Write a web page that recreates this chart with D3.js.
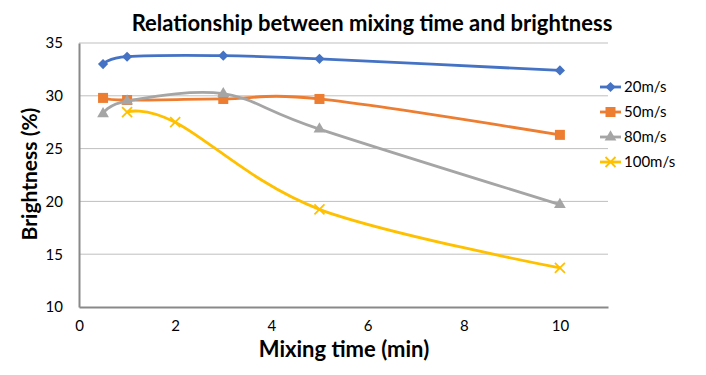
<!DOCTYPE html>
<html>
<head>
<meta charset="utf-8">
<script src="https://cdn.jsdelivr.net/npm/d3@7"></script>
<style>
  body { margin: 0; background: #fff; }
  text { font-family: Lato, "Open Sans", sans-serif; }
</style>
</head>
<body>
<svg id="canvas" width="706" height="375"></svg>
<script>
var seriesNames = ['20m/s', '50m/s', '80m/s', '100m/s'];
var seriesColors = ['#4472c4', '#ed7d31', '#a5a5a5', '#ffc000'];
var seriesMarkers = ['diamond', 'square', 'triangle', 'cross'];
var times20 = [0.5, 1, 3, 5, 10];
var values20 = [33.0, 33.7, 33.8, 33.5, 32.4];
var times50 = [0.5, 1, 3, 5, 10];
var values50 = [29.8, 29.6, 29.7, 29.7, 26.3];
var times80 = [0.5, 1, 3, 5, 10];
var values80 = [28.3, 29.5, 30.2, 26.85, 19.7];
var times100 = [1, 2, 5, 10];
var values100 = [28.45, 27.5, 19.25, 13.7];
var xTicks = [0, 2, 4, 6, 8, 10];
var yTicks = [10, 15, 20, 25, 30, 35];

var allTimes = [times20, times50, times80, times100];
var allValues = [values20, values50, values80, values100];

var svg = d3.select('#canvas');
var margin = { left: 79, right: 98, top: 43, bottom: 68 };
var width = 706 - margin.left - margin.right;
var height = 375 - margin.top - margin.bottom;

var x = d3.scaleLinear().domain([0, 11]).range([margin.left, margin.left + width]);
var y = d3.scaleLinear().domain([10, 35]).range([margin.top + height, margin.top]);

// gridlines
svg.append('g')
    .selectAll('line')
    .data(yTicks.slice(1))
    .enter().append('line')
    .attr('x1', x(0))
    .attr('x2', x(11))
    .attr('y1', function(d) { return y(d); })
    .attr('y2', function(d) { return y(d); })
    .attr('stroke', '#bfbfbf')
    .attr('stroke-width', 1);

// axes
var xAxis = svg.append('g')
    .attr('transform', 'translate(0,' + y(10) + ')')
    .call(d3.axisBottom(x).tickValues(xTicks).tickSize(0).tickPadding(13));
var yAxis = svg.append('g')
    .attr('transform', 'translate(' + x(0) + ',0)')
    .call(d3.axisLeft(y).tickValues(yTicks).tickSize(0).tickPadding(16));
[xAxis, yAxis].forEach(function(a) {
    a.select('.domain').attr('stroke', '#898989').attr('stroke-width', 2);
    a.selectAll('text')
        .attr('fill', '#000')
        .style('font-size', '15px')
        .style('font-family', 'Lato, sans-serif');
});

var line = d3.line()
    .x(function(d) { return x(d[0]); })
    .y(function(d) { return y(d[1]); })
    .curve(d3.curveCardinal.tension(0));

function drawMarker(g, kind, color, cx, cy) {
    if (kind === 'diamond') {
        g.append('rect')
            .attr('x', -3.6).attr('y', -3.6)
            .attr('width', 7.2).attr('height', 7.2)
            .attr('transform', 'translate(' + cx + ',' + cy + ') rotate(45)')
            .attr('fill', color);
    } else if (kind === 'square') {
        g.append('rect')
            .attr('x', cx - 5).attr('y', cy - 5)
            .attr('width', 10).attr('height', 10)
            .attr('fill', color);
    } else if (kind === 'triangle') {
        g.append('path')
            .attr('d', d3.symbol().type(d3.symbolTriangle).size(60)())
            .attr('transform', 'translate(' + cx + ',' + cy + ')')
            .attr('fill', color);
    } else {
        g.append('path')
            .attr('d', 'M' + (cx - 5) + ',' + (cy - 5) + 'L' + (cx + 5) + ',' + (cy + 5) +
                'M' + (cx - 5) + ',' + (cy + 5) + 'L' + (cx + 5) + ',' + (cy - 5))
            .attr('stroke', color)
            .attr('stroke-width', 1.8)
            .attr('fill', 'none');
    }
}

for (var i = 0; i < seriesNames.length; i++) {
    var pts = allTimes[i].map(function(t, j) { return [t, allValues[i][j]]; });
    var g = svg.append('g');
    g.append('path')
        .datum(pts)
        .attr('d', line)
        .attr('fill', 'none')
        .attr('stroke', seriesColors[i])
        .attr('stroke-width', 2.8);
    pts.forEach(function(p) {
        drawMarker(g, seriesMarkers[i], seriesColors[i], x(p[0]), y(p[1]));
    });

    // legend
    var ly = 87 + i * 25;
    var lg = svg.append('g');
    lg.append('line')
        .attr('x1', 600).attr('x2', 621)
        .attr('y1', ly).attr('y2', ly)
        .attr('stroke', seriesColors[i])
        .attr('stroke-width', 2.8);
    drawMarker(lg, seriesMarkers[i], seriesColors[i], 610.5, ly);
    lg.append('text')
        .attr('x', 624)
        .attr('y', ly + 5)
        .style('font-size', '15px')
        .attr('fill', '#000')
        .text(seriesNames[i]);
}

// title and axis labels
svg.append('text')
    .attr('x', 372)
    .attr('y', 31)
    .attr('text-anchor', 'middle')
    .style('font-size', '22px')
    .style('font-weight', 'bold')
    .text('Relationship between mixing time and brightness');

svg.append('text')
    .attr('x', 344)
    .attr('y', 357)
    .attr('text-anchor', 'middle')
    .style('font-size', '22px')
    .style('font-weight', 'bold')
    .text('Mixing time (min)');

svg.append('text')
    .attr('transform', 'translate(37,174) rotate(-90)')
    .attr('text-anchor', 'middle')
    .style('font-size', '21px')
    .style('font-weight', 'bold')
    .text('Brightness (%)');
</script>
</body>
</html>
